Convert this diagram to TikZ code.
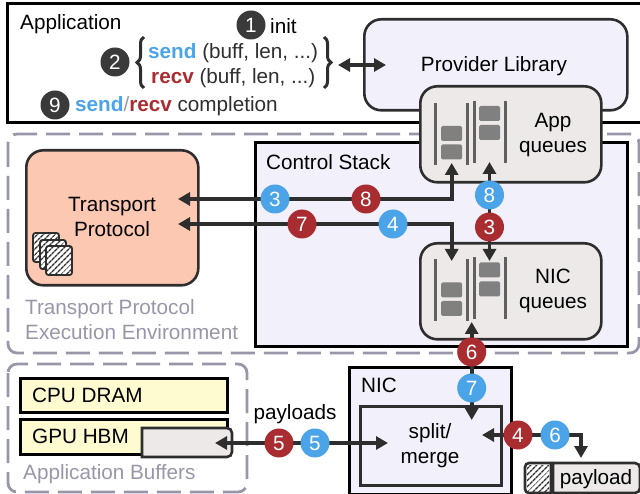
\documentclass[tikz,border=0pt]{standalone}
\usepackage{fontspec}
\setmainfont{Liberation Sans}
\usetikzlibrary{arrows.meta,decorations.pathreplacing,patterns.meta}
\definecolor{stepBlue}{HTML}{4BA3E8}
\definecolor{stepRed}{HTML}{A92C30}
\definecolor{stepDark}{HTML}{3A3A3A}
\definecolor{lineDark}{HTML}{2E2E2E}
\definecolor{envGray}{HTML}{9896A8}
\definecolor{libFill}{HTML}{F2F1FB}
\definecolor{queueFill}{HTML}{ECE9E8}
\definecolor{protoFill}{HTML}{FDC8B2}
\definecolor{memFill}{HTML}{FDFBCF}
\newcommand{\labelFont}[0]{\fontsize{20.7}{25}\selectfont}

\begin{document}
\begin{tikzpicture}[x=1pt, y=-1pt,
    lbl/.style={font=\labelFont, align=center, inner sep=0pt, text=black},
    envlbl/.style={lbl, align=left, anchor=west, text=envGray},
    stepnum/.style={circle, minimum size=29pt, inner sep=0pt, text=white, font=\labelFont},
    stepB/.style={stepnum, fill=stepBlue},
    stepR/.style={stepnum, fill=stepRed},
    stepK/.style={stepnum, fill=stepDark},
    flow/.style={{Triangle[length=12pt,width=13pt]}-{Triangle[length=12pt,width=13pt]}, line width=3.6pt, draw=lineDark},
    envbox/.style={draw=envGray, line width=2.8pt, dash pattern=on 24pt off 9pt, rounded corners=9pt},
    softbox/.style={draw=lineDark, line width=2.6pt, rounded corners=17pt},
    hardbox/.style={draw=black, line width=3pt},
    qbar/.style={draw=none, fill=gray!75!black},
    qslot/.style={draw=none, fill=gray, rounded corners=1.5pt},
    hatch/.style={pattern={Lines[angle=45,distance=4pt,line width=1.4pt]}, pattern color=lineDark}]
  \useasboundingbox (0,0) rectangle (640,494);

  % application
  \draw[hardbox] (640,4) -- (7,4) -- (7,122.5) -- (640,122.5);
  \node[lbl, anchor=west] (app) at (20,24.5) {Application};
  \node[stepK] (step-1) at (251,25) {1};
  \node[lbl, anchor=west] (init) at (270,26) {init};
  \node[stepK] (step-2) at (115,62) {2};
  \node[lbl, anchor=west] (send-call) at (148,53) {\textbf{\textcolor{stepBlue}{send}} \textcolor{lineDark}{(buff, len, ...)}};
  \node[lbl, anchor=west] (recv-call) at (151,78) {\textbf{\textcolor{stepRed}{recv}} \textcolor{lineDark}{(buff, len, ...)}};
  \node[stepK] (step-9) at (55,105) {9};
  \node[lbl, anchor=west] (done) at (75,106) {\textbf{\textcolor{stepBlue}{send}}\textcolor{envGray}{/}\textbf{\textcolor{stepRed}{recv}} \textcolor{lineDark}{completion}};
  \coordinate (brace-l-bot) at (144,88);
  \coordinate (brace-l-top) at (144,37);
  \coordinate (brace-r-top) at (324,37);
  \coordinate (brace-r-bot) at (324,88);
  \draw[line width=3pt, draw=lineDark, decorate, decoration={brace, amplitude=7pt}] (brace-l-bot) -- (brace-l-top);
  \draw[line width=3pt, draw=lineDark, decorate, decoration={brace, amplitude=7pt}] (brace-r-top) -- (brace-r-bot);

  % transport environment
  \draw[envbox] (8,134) rectangle (639,353);
  \node[softbox, fill=protoFill, minimum width=172pt, minimum height=135pt, anchor=north west] (proto) at (25,149) {};
  \node[lbl] (proto-text) at (112,216.5) {Transport\\Protocol};
  \foreach \dx/\dy in {33/233, 40/240, 46/246} {
    \draw[draw=lineDark, line width=1.8pt, fill=white, rounded corners=2.5pt] (\dx,\dy) rectangle ++(26,29);
    \path[hatch] (\dx+1,\dy+1) rectangle ++(24,27);
  }
  \node[envlbl] (env-text) at (25,320) {Transport Protocol\\Execution Environment};

  % provider library and control stack
  \node[softbox, fill=libFill, minimum width=263pt, minimum height=91pt, anchor=north west] (lib) at (363,18) {};
  \node[lbl] (lib-text) at (494,66) {Provider Library};
  \node[hardbox, fill=libFill, minimum width=372pt, minimum height=204pt, anchor=north west] (ctrl) at (254,141) {};
  \node[lbl, anchor=west] (ctrl-text) at (266,162) {Control Stack};
  \node[softbox, fill=queueFill, minimum width=181pt, minimum height=96pt, anchor=north west] (app-q) at (419,85) {};
  \node[lbl] (app-q-text) at (553,135) {App\\queues};
  \node[softbox, fill=queueFill, minimum width=181pt, minimum height=96pt, anchor=north west] (nic-q) at (419,242) {};
  \node[lbl] (nic-q-text) at (553,291) {NIC\\queues};
  \foreach \dy in {0,156.5} {
    \foreach \bx/\by in {434.2/103, 465.5/103, 472.5/101, 504.2/101}
      \fill[qbar] (\bx,\by+\dy) rectangle ++(3,62);
    \foreach \sx/\sy in {441/126, 441/144.5, 479/106, 479/125}
      \fill[qslot] (\sx,\sy+\dy) rectangle ++(21,15);
  }

  % buffers
  \draw[envbox] (8,364) rectangle (247,492);
  \node[hardbox, fill=memFill, minimum width=207pt, minimum height=34pt, anchor=north west] (cpu) at (19,377) {};
  \node[lbl, anchor=west] (cpu-text) at (32,395) {CPU DRAM};
  \node[hardbox, fill=memFill, minimum width=207pt, minimum height=35pt, anchor=north west] (gpu) at (19,418) {};
  \node[lbl, anchor=west] (gpu-text) at (32,436.5) {GPU HBM};
  \draw[draw=lineDark, line width=2.6pt, fill=queueFill] (142,428) [rounded corners=5pt] -- (232,428) -- (232,457) [sharp corners] -- (142,457) -- cycle;
  \node[envlbl] (buf-text) at (23,474) {Application Buffers};
  \node[lbl] (payloads) at (295,414) {payloads};

  % nic
  \node[hardbox, fill=libFill, minimum width=162pt, minimum height=127pt, anchor=north west] (nic) at (348,365.5) {};
  \node[lbl, anchor=west] (nic-text) at (361,385) {NIC};
  \node[draw=lineDark, line width=2.6pt, minimum width=141pt, minimum height=79pt, anchor=north west] (split) at (359,405) {};
  \node[lbl] (split-text) at (430,446) {split/\\merge};

  % payload on the wire
  \draw[draw=lineDark, line width=2.6pt, fill=white] (551,463) [rounded corners=4pt] -- (525,463) -- (525,493) [sharp corners] -- (551,493) -- cycle;
  \path[hatch] (527,465) rectangle (549,491);
  \draw[draw=lineDark, line width=2.6pt, fill=queueFill] (553,463) [rounded corners=5pt] -- (640,463) -- (640,493) [sharp corners] -- (553,493) -- cycle;
  \node[lbl] (wire-text) at (596,479) {payload};

  % connectors
  \coordinate (lib-in) at (386,65);
  \coordinate (call-out) at (338,65);
  \coordinate (proto-in-a) at (178,199);
  \coordinate (proto-in-b) at (178,224);
  \coordinate (app-q-a) at (451.7,163);
  \coordinate (app-q-b) at (489.5,162);
  \coordinate (nic-q-a) at (451.7,261);
  \coordinate (nic-q-b) at (489.5,261);
  \coordinate (nic-q-c) at (471.7,322);
  \coordinate (split-top) at (471.7,420);
  \coordinate (split-left) at (388,443);
  \coordinate (split-right) at (482,435);
  \coordinate (gpu-in) at (215,443);
  \coordinate (wire-in) at (581,458);
  \draw[flow] (call-out) -- (lib-in);
  \draw[flow] (app-q-a) |- (proto-in-a);
  \draw[flow] (nic-q-a) |- (proto-in-b);
  \draw[flow] (app-q-b) -- (nic-q-b);
  \draw[flow] (nic-q-c) -- (split-top);
  \draw[flow] (gpu-in) -- (split-left);
  \draw[flow] (split-right) -| (wire-in);

  \node[stepB] (b-3) at (275,199) {3};
  \node[stepR] (r-8) at (366,199) {8};
  \node[stepR] (r-7) at (302,224) {7};
  \node[stepB] (b-4) at (393,224) {4};
  \node[stepB] (b-8) at (489.5,195) {8};
  \node[stepR] (r-3) at (489.5,227) {3};
  \node[stepR] (r-6) at (471.7,352) {6};
  \node[stepB] (b-7) at (471.7,388) {7};
  \node[stepR] (r-5) at (279,443) {5};
  \node[stepB] (b-5) at (315,443) {5};
  \node[stepR] (r-4) at (518,435) {4};
  \node[stepB] (b-6) at (555,435) {6};
\end{tikzpicture}
\end{document}
